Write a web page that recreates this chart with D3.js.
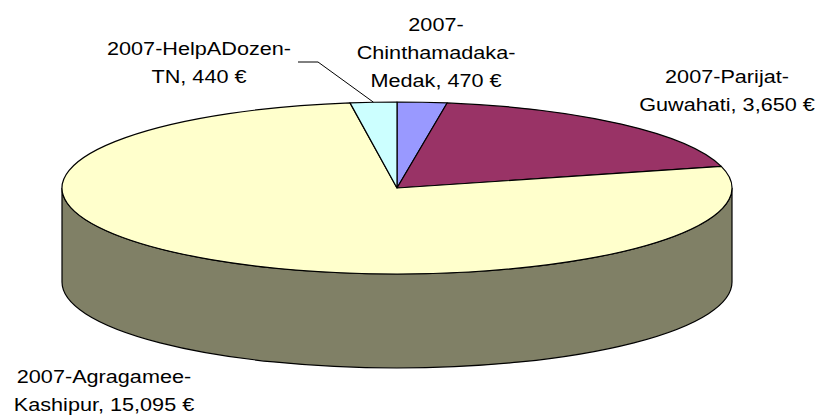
<!DOCTYPE html>
<html>
<head>
<meta charset="utf-8">
<style>
body { margin: 0; background: #fff; }
text { font-family: "Liberation Sans", Arial, sans-serif; font-size: 18.5px; fill: #000; }
</style>
</head>
<body>
<svg width="822" height="416"></svg>
<script src="https://d3js.org/d3.v7.min.js"></script>
<script>
// data, in Excel's clockwise order from 12 o'clock
var categories = ["2007-Chinthamadaka-Medak", "2007-Parijat-Guwahati", "2007-Agragamee-Kashipur", "2007-HelpADozen-TN"];
var values = [470, 3650, 15095, 440];
var labelLines = [
  ["2007-", "Chinthamadaka-", "Medak, 470 €"],
  ["2007-Parijat-", "Guwahati, 3,650 €"],
  ["2007-Agragamee-", "Kashipur, 15,095 €"],
  ["2007-HelpADozen-", "TN, 440 €"]
];
var colors = ["#9999ff", "#993366", "#ffffcc", "#ccffff"];
var sideColors = ["#4d4d80", "#4d1a33", "#808066", "#668080"];

var svg = d3.select("svg");
var cx = 397, cy = 188, rx = 335, ry = 86, depth = 94;
var k = ry / rx;

var pie = d3.pie().sort(null).value(function(d) { return d; });
var arcs = pie(values);

var g = svg.append("g").attr("transform", "translate(" + cx + "," + cy + ") scale(1," + k + ")");

// front wall (only the big slice faces us)
var d2 = depth / k;
var side = "M" + (-rx) + ",0 L" + (-rx) + "," + d2 +
  " A" + rx + "," + rx + " 0 0 0 " + rx + "," + d2 +
  " L" + rx + ",0 A" + rx + "," + rx + " 0 0 1 " + (-rx) + ",0 Z";
g.append("path")
  .attr("d", side)
  .attr("fill", sideColors[2])
  .attr("stroke", "#000")
  .attr("stroke-width", 1.2)
  .attr("vector-effect", "non-scaling-stroke");

var arc = d3.arc().innerRadius(0).outerRadius(rx);
g.selectAll("path.slice")
  .data(arcs)
  .enter().append("path")
    .attr("class", "slice")
    .attr("d", arc)
    .attr("fill", function(d, i) { return colors[i]; })
    .attr("stroke", "#000")
    .attr("stroke-width", 1.2)
    .attr("stroke-linejoin", "round")
    .attr("vector-effect", "non-scaling-stroke");

// labels (the original font runs a bit wide, so stretch it)
var labelPos = [[436, 31], [727, 83], [104, 383], [199, 55]];
var lineH = 28;
labelLines.forEach(function(lines, i) {
  var t = svg.append("text")
    .attr("text-anchor", "middle")
    .attr("transform", "translate(" + labelPos[i][0] + "," + labelPos[i][1] + ") scale(1.17,1)");
  lines.forEach(function(s, j) {
    t.append("tspan").attr("x", 0).attr("y", j * lineH).text(s);
  });
});

// leader line for the small HelpADozen slice
var a = arcs[3];
var mid = (a.startAngle + a.endAngle) / 2;
var px = cx + rx * Math.sin(mid), py = cy - ry * Math.cos(mid);
svg.append("polyline")
  .attr("points", [[298, 62], [318, 62], [px, py]].map(function(p) { return p.join(","); }).join(" "))
  .attr("fill", "none")
  .attr("stroke", "#000")
  .attr("stroke-width", 1);
</script>
</body>
</html>
